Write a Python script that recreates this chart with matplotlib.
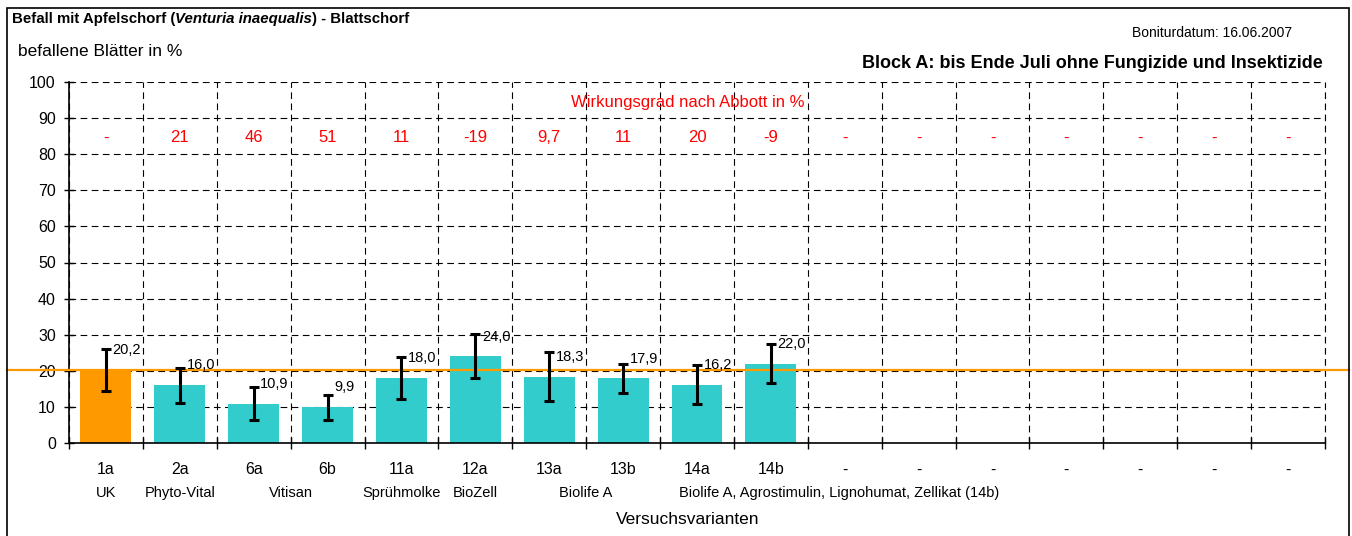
import numpy as np
import matplotlib.pyplot as plt
from matplotlib.patches import Rectangle

plt.rcParams['font.family'] = ['Liberation Sans', 'DejaVu Sans']

# Daten
varianten = ['1a', '2a', '6a', '6b', '11a', '12a', '13a', '13b', '14a', '14b',
             '-', '-', '-', '-', '-', '-', '-']
befall = [20.2, 16.0, 10.9, 9.9, 18.0, 24.0, 18.3, 17.9, 16.2, 22.0]
fehler = [5.9, 4.9, 4.5, 3.5, 5.9, 6.1, 6.8, 4.1, 5.5, 5.4]
abbott = ['-', '21', '46', '51', '11', '-19', '9,7', '11', '20', '-9',
          '-', '-', '-', '-', '-', '-', '-']
gruppen = ['UK', 'Phyto-Vital', 'Vitisan', 'Sprühmolke', 'BioZell', 'Biolife A',
           'Biolife A, Agrostimulin, Lignohumat, Zellikat (14b)']
gruppen_pos = [0, 1, 2.5, 4, 5, 6.5, 9.93]

orange = '#FF9900'
tuerkis = '#33CCCC'

fig = plt.figure(figsize=(13.52, 5.36), dpi=100)
ax = fig.add_axes([69/1352, 1-443/536, 1256/1352, 361/536])

n = len(varianten)
x = np.arange(len(befall))
farben = [orange] + [tuerkis] * (len(befall) - 1)
ax.bar(x, befall, width=0.69, color=farben, zorder=2)
ax.errorbar(x, befall, yerr=fehler, fmt='none', ecolor='black',
            elinewidth=2.2, capsize=3.5, capthick=2.2, zorder=4)

# Datenbeschriftungen
for i, v in enumerate(befall):
    ax.text(i + 0.09, v + 5.5, f'{v:.1f}'.replace('.', ','), fontsize=10.5,
            ha='left', va='center', zorder=5)

# Kontrolllinie (UK)
ax.axhline(befall[0], xmin=-62/1256, xmax=1280/1256, color=orange, lw=1.6,
           clip_on=False, zorder=3)

# Wirkungsgrad nach Abbott
ax.text(7.88, 94.2, 'Wirkungsgrad nach Abbott in %', color='red', fontsize=12,
        ha='center', va='center')
for i, a in enumerate(abbott):
    ax.text(i, 84.5, a, color='red', fontsize=12, ha='center', va='center')

ax.set_xlim(-0.5, n - 0.5)
ax.set_ylim(0, 100)
ax.set_yticks(np.arange(0, 101, 10))
ax.set_xticks(np.arange(n))
ax.set_xticklabels(varianten, fontsize=11.5)
ax.set_xticks(np.arange(n + 1) - 0.5, minor=True)
ax.tick_params(axis='x', which='major', length=0, pad=14)
ax.tick_params(axis='x', which='minor', direction='inout', length=8, width=1)
ax.tick_params(axis='y', direction='inout', length=7, width=1, pad=6, labelsize=11.5)

ax.grid(True, axis='y', which='major', color='black', ls=(0, (6, 4)), lw=0.8, zorder=1)
ax.grid(True, axis='x', which='minor', color='black', ls=(0, (6, 4)), lw=0.8, zorder=1)
# rechter Rand gestrichelt wie das Gitter
ax.axvline(n - 0.5, color='black', ls=(0, (6, 4)), lw=0.8, clip_on=False, zorder=1)
ax.spines['top'].set_visible(False)
ax.spines['right'].set_visible(False)
ax.spines['left'].set_linewidth(1.2)
ax.spines['bottom'].set_linewidth(1.2)

# Gruppenbezeichnungen
tr = ax.get_xaxis_transform()
for name, pos in zip(gruppen, gruppen_pos):
    ax.text(pos, -0.1385, name, transform=tr, fontsize=10.5, ha='center', va='center')
ax.text(7.88, -0.213, 'Versuchsvarianten', transform=tr, fontsize=12.5,
        ha='center', va='center')

# Titel (teilweise kursiv)
t1 = fig.text(12/1352, 1-19/536, 'Befall mit Apfelschorf (', fontsize=10.8,
              fontweight='bold', va='center')
t2 = ax.annotate('Venturia inaequalis', xy=(1, 0), xycoords=t1, fontsize=10.8,
                 fontweight='bold', fontstyle='italic', va='bottom',
                 annotation_clip=False)
ax.annotate(') - Blattschorf', xy=(1, 0), xycoords=t2, fontsize=10.8,
            fontweight='bold', va='bottom', annotation_clip=False)

fig.text(18/1352, 1-52/536, 'befallene Blätter in %', fontsize=12.5, va='center')
fig.text(1292/1352, 1-33/536, 'Boniturdatum: 16.06.2007', fontsize=10,
         ha='right', va='center')
fig.text(1323/1352, 1-64/536, 'Block A: bis Ende Juli ohne Fungizide und Insektizide',
         fontsize=13, fontweight='bold', ha='right', va='center')

# Rahmen
fig.patches.append(Rectangle((7/1352, -0.1), 1342/1352, 1.1 - 8/536, fill=False,
                             edgecolor='black', lw=1.2, transform=fig.transFigure,
                             figure=fig))

fig.savefig('out.png', dpi=100)
